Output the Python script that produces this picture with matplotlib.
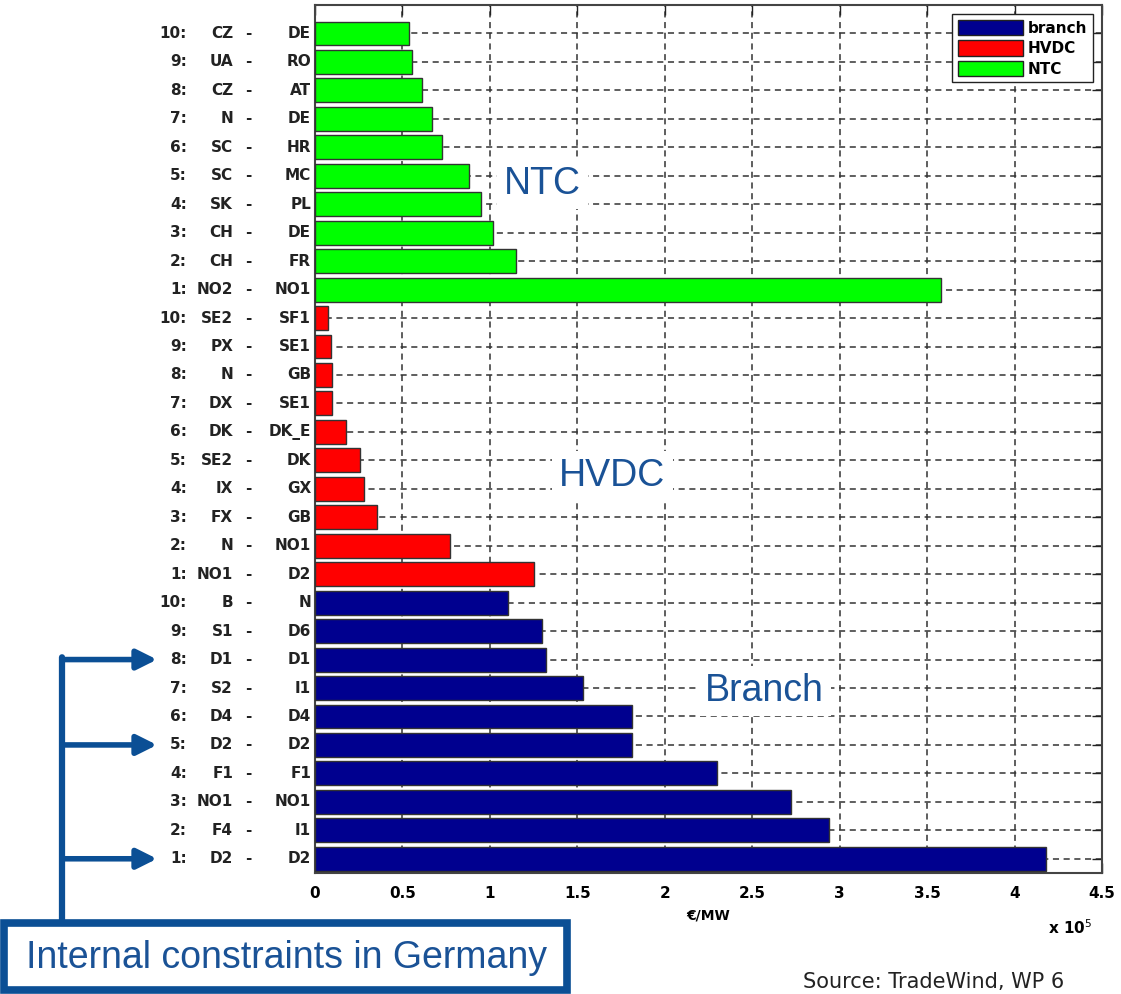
import matplotlib
matplotlib.use('Agg')
import matplotlib.pyplot as plt
from matplotlib.patches import Rectangle, Patch

# values in EUR/MW, rank 1..10 per group
ntc_from = ['NO2', 'CH', 'CH', 'SK', 'SC', 'SC', 'N', 'CZ', 'UA', 'CZ']
ntc_to = ['NO1', 'FR', 'DE', 'PL', 'MC', 'HR', 'DE', 'AT', 'RO', 'DE']
ntc_val = [358000, 115000, 102000, 95000, 88000, 72500, 67000, 61000, 55500, 53500]

hvdc_from = ['NO1', 'N', 'FX', 'IX', 'SE2', 'DK', 'DX', 'N', 'PX', 'SE2']
hvdc_to = ['D2', 'NO1', 'GB', 'GX', 'DK', 'DK_E', 'SE1', 'GB', 'SE1', 'SF1']
hvdc_val = [125000, 77000, 35500, 28000, 25500, 18000, 9800, 9700, 9200, 7500]

branch_from = ['D2', 'F4', 'NO1', 'F1', 'D2', 'D4', 'S2', 'D1', 'S1', 'B']
branch_to = ['D2', 'I1', 'NO1', 'F1', 'D2', 'D4', 'I1', 'D1', 'D6', 'N']
branch_val = [418000, 294000, 272000, 230000, 181000, 181000, 153500, 132000, 130000, 110500]

german_ranks = [1, 5, 8]   # branch rows marked as internal German constraints

groups = [
    ('branch', '#00008f', branch_from, branch_to, branch_val),
    ('HVDC', '#ff0000', hvdc_from, hvdc_to, hvdc_val),
    ('NTC', '#00ff00', ntc_from, ntc_to, ntc_val),
]

W, H = 1121, 994
fig = plt.figure(figsize=(W / 100, H / 100), dpi=100)
ax = fig.add_axes([315 / W, 1 - 873 / H, (1102 - 315) / W, (873 - 5) / H])

def fx(px):
    return px / W

def fy(py):
    return 1 - py / H

lab_kw = dict(xycoords=ax.get_yaxis_transform(), textcoords='offset pixels',
              va='center', fontsize=11, fontweight='bold', color='#222222',
              annotation_clip=False)

for g, (name, col, src, dst, vals) in enumerate(groups):
    pos = [g * 10 + k + 1 for k in range(len(vals))]
    ax.barh(pos, [v / 1e5 for v in vals], height=0.84, color=col,
            edgecolor='#333333', linewidth=1.0, zorder=3)
    for k, p in enumerate(pos):
        ax.annotate('%d:' % (k + 1), (0, p), xytext=(-128, 0), ha='right', **lab_kw)
        ax.annotate(src[k], (0, p), xytext=(-82, 0), ha='right', **lab_kw)
        ax.annotate('-', (0, p), xytext=(-67, 0), ha='center', **lab_kw)
        ax.annotate(dst[k], (0, p), xytext=(-4, 0), ha='right', **lab_kw)

ax.set_xlim(0, 4.5)
ax.set_ylim(0.5, 31)
ax.set_xticks([i * 0.5 for i in range(10)])
ax.set_xticklabels(['0', '0.5', '1', '1.5', '2', '2.5', '3', '3.5', '4', '4.5'],
                   fontsize=11, fontweight='bold')
ax.set_yticks(range(1, 31))
ax.set_yticklabels([])
ax.tick_params(direction='in', length=7, top=True, right=True, width=1,
               color='#222222', pad=9)
ax.grid(True, linestyle=(0, (4, 3)), color='#333333', linewidth=1.1)
ax.set_axisbelow(True)
for s in ax.spines.values():
    s.set_color('#444444')
    s.set_linewidth(1.5)

ax.set_xlabel('€/MW', fontsize=10, fontweight='bold', labelpad=6)
fig.text(fx(1048), fy(928), r'x 10$^5$', fontsize=11, fontweight='bold',
         va='center', ha='left')

handles = [Patch(facecolor=c, edgecolor='#222222', label=n) for n, c, *_ in groups]
leg = ax.legend(handles=handles, loc='upper right',
                prop={'weight': 'bold', 'size': 11}, fancybox=False,
                edgecolor='#222222', framealpha=1, handlelength=4.3,
                handleheight=1.2, borderaxespad=0.6, labelspacing=0.3,
                handletextpad=0.3, borderpad=0.35)
leg.get_frame().set_linewidth(1.0)

blue_txt = '#1a5296'
box = dict(facecolor='white', edgecolor='none', pad=5)
ax.text(1.30, 24.72, 'NTC', fontsize=27, color=blue_txt, ha='center', va='center',
        family='Liberation Sans', bbox=box, zorder=4)
ax.text(1.70, 14.44, 'HVDC', fontsize=27, color=blue_txt, ha='center', va='center',
        family='Liberation Sans', bbox=box, zorder=4)
ax.text(2.57, 6.9, 'Branch', fontsize=27, color=blue_txt, ha='center', va='center',
        family='Liberation Sans', bbox=box, zorder=4)

# internal German constraints: arrows + box
arrow_col = '#0b4f95'
for r in german_ranks:
    ax.annotate('', xy=(fx(157), r), xycoords=('figure fraction', 'data'),
                xytext=(fx(62), r), textcoords=('figure fraction', 'data'),
                arrowprops=dict(arrowstyle='-|>', lw=4, color=arrow_col,
                                mutation_scale=30, shrinkA=0, shrinkB=0),
                annotation_clip=False)
ax.annotate('', xy=(fx(62), fy(923)), xycoords='figure fraction',
            xytext=(fx(62), max(german_ranks) + 0.08), textcoords=('figure fraction', 'data'),
            arrowprops=dict(arrowstyle='-', lw=4.5, color=arrow_col,
                            shrinkA=0, shrinkB=0),
            annotation_clip=False)

fig.add_artist(Rectangle((fx(4), fy(990)), fx(567) - fx(4), fy(923) - fy(990),
                         transform=fig.transFigure, fill=False,
                         edgecolor=arrow_col, linewidth=5.5))
fig.text(fx(287), fy(958), 'Internal constraints in Germany', fontsize=27,
         color=blue_txt, ha='center', va='center', family='Liberation Sans')

fig.text(fx(803), fy(972), 'Source: TradeWind, WP 6', fontsize=15,
         color='#222222', ha='left', va='top', family='DejaVu Sans')

fig.savefig('out.png', dpi=100)
